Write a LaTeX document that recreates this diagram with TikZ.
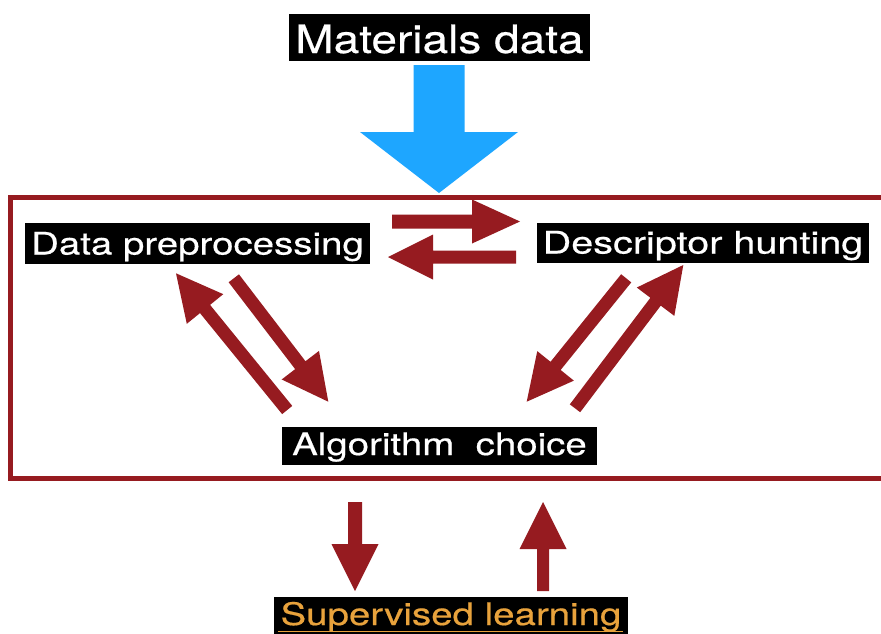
\documentclass[tikz,border=0pt]{standalone}
\usepackage{fontspec}
\setmainfont{TeX Gyre Heros}
\newfontfamily\titlefont[FakeStretch=1.18,FakeBold=0.5]{TeX Gyre Heros}
\newfontfamily\boxfont[FakeStretch=1.24,FakeBold=0.5]{TeX Gyre Heros}
\usetikzlibrary{calc}

\definecolor{loopred}{RGB}{150,27,32}
\definecolor{datablue}{RGB}{30,166,255}
\definecolor{learnorange}{RGB}{232,162,60}

% Block arrow: #1 colour, #2 tail, #3 tip, #4 half shaft width,
% #5 half head width, #6 head length
\newcommand\fatarrow[6]{%
  \coordinate (fa-h) at ($(#3)!#6!(#2)$);
  \fill[#1] ($(#2)!#4!90:(#3)$) -- ($(fa-h)!#4!90:(#3)$)
    -- ($(fa-h)!#5!90:(#3)$) -- (#3) -- ($(fa-h)!#5!-90:(#3)$)
    -- ($(fa-h)!#4!-90:(#3)$) -- ($(#2)!#4!-90:(#3)$) -- cycle;
}

\tikzset{
  labelbox/.style={fill=black, text=white, inner sep=0pt, anchor=base,
    font=\boxfont\fontsize{31}{33}\selectfont},
}

\begin{document}
\begin{tikzpicture}[x=1pt,y=-1pt]
\useasboundingbox (0,0) rectangle (881,633);
\clip (0,0) rectangle (881,633);
\fill[white] (0,0) rectangle (881,633);

% labels
\node[labelbox, font=\titlefont\fontsize{39}{41}\selectfont,
      minimum width=301pt, text height=39pt, text depth=8pt] (md) at (439.5,53) {Materials data};
\node[labelbox, minimum width=345pt, text height=32pt, text depth=9pt] (dp) at (197.5,254.5) {Data preprocessing};
\node[labelbox, minimum width=332pt, text height=31pt, text depth=9pt] (dh) at (703,253.5) {\scalebox{1.03}[1]{Descriptor hunting}};
\node[labelbox, minimum width=315pt, text height=28pt, text depth=10pt] (ac) at (439.5,455) {Algorithm\ \ choice};
\node[labelbox, text=learnorange, minimum width=354pt, text height=28pt, text depth=16pt] (sl) at (451,625) {Supervised learning};
\draw[learnorange, line width=1.5pt] ($(sl.base west)+(4,6.5)$) -- ($(sl.base east)+(-5,6.5)$);

% frame around the workflow loop
\draw[loopred, line width=5pt] (10,197.5) rectangle (900,478.5);

% arrow end points
\coordinate (blue-tail) at (439,65);
\coordinate (blue-tip)  at (439,193);
\coordinate (h1-tail) at (392,221.5);
\coordinate (h1-tip)  at (520,221.5);
\coordinate (h2-tail) at (516,257);
\coordinate (h2-tip)  at (388,257);
\coordinate (d1-tail) at (287.2,410);
\coordinate (d1-tip)  at (176,273.3);
\coordinate (d2-tail) at (233.8,278.3);
\coordinate (d2-tip)  at (328.3,401.7);
\coordinate (d3-tail) at (626.2,278.3);
\coordinate (d3-tip)  at (526.7,401.7);
\coordinate (d4-tail) at (575,408.3);
\coordinate (d4-tip)  at (683.3,265);
\coordinate (v1-tail) at (355,502);
\coordinate (v1-tip)  at (355,591);
\coordinate (v2-tail) at (543,591);
\coordinate (v2-tip)  at (543,502);

% data input
\fatarrow{datablue}{blue-tail}{blue-tip}{25.5pt}{79pt}{61pt}

% exchanges inside the loop
\fatarrow{loopred}{h1-tail}{h1-tip}{7pt}{22pt}{48pt}
\fatarrow{loopred}{h2-tail}{h2-tip}{6.5pt}{22.5pt}{45pt}
\fatarrow{loopred}{d1-tail}{d1-tip}{6.5pt}{23.5pt}{46pt}
\fatarrow{loopred}{d2-tail}{d2-tip}{6.5pt}{23.5pt}{46pt}
\fatarrow{loopred}{d3-tail}{d3-tip}{6.5pt}{23.5pt}{46pt}
\fatarrow{loopred}{d4-tail}{d4-tip}{6.5pt}{23.5pt}{46pt}

% link to supervised learning
\fatarrow{loopred}{v1-tail}{v1-tip}{7pt}{23.5pt}{47pt}
\fatarrow{loopred}{v2-tail}{v2-tip}{6pt}{23.5pt}{47pt}
\end{tikzpicture}
\end{document}
